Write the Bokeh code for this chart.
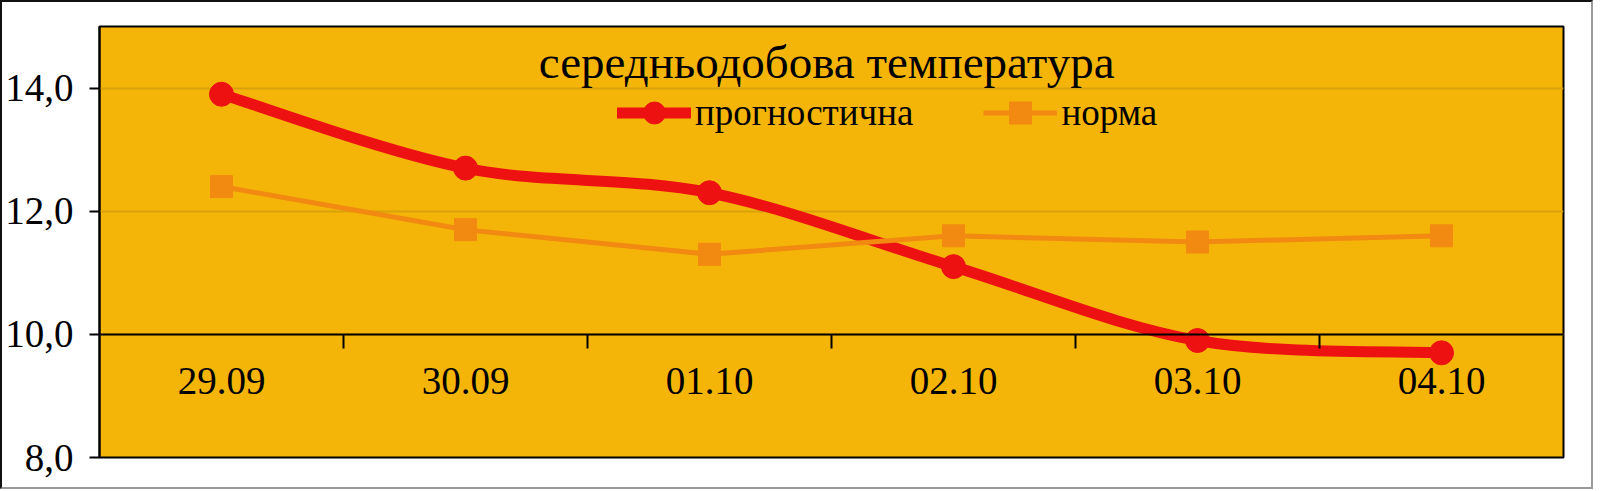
from bokeh.plotting import figure
from bokeh.models import (Range1d, LinearAxis, FixedTicker, Label, Legend,
                          LegendItem, ColumnDataSource)
from bokeh.embed import file_html
from bokeh.resources import INLINE

# ---- data ----
categories = ["29.09", "30.09", "01.10", "02.10", "03.10", "04.10"]
forecast = [13.9, 12.7, 12.3, 11.1, 9.9, 9.7]
normal = [12.4, 11.7, 11.3, 11.6, 11.5, 11.6]
y_ticks = [8, 10, 12, 14]
y_tick_labels = ["8,0", "10,0", "12,0", "14,0"]
title_text = "середньодобова температура"
series_names = ["прогностична", "норма"]

# ---- styles ----
BG = "#F5B508"
RED = "#EE1111"
ORANGE = "#F28A12"
GRID = "#D9A20A"
FONT = "Liberation Serif"

n = len(categories)
xs = [i + 0.5 for i in range(n)]

# smooth (Catmull-Rom style Bezier, like a spreadsheet "smoothed line")
pts = list(zip(xs, forecast))
seg = dict(x0=[], y0=[], x1=[], y1=[], cx0=[], cy0=[], cx1=[], cy1=[])
for i in range(n - 1):
    p0 = pts[max(i - 1, 0)]
    p1 = pts[i]
    p2 = pts[i + 1]
    p3 = pts[min(i + 2, n - 1)]
    seg["x0"].append(p1[0]); seg["y0"].append(p1[1])
    seg["x1"].append(p2[0]); seg["y1"].append(p2[1])
    seg["cx0"].append(p1[0] + (p2[0] - p0[0]) / 6)
    seg["cy0"].append(p1[1] + (p2[1] - p0[1]) / 6)
    seg["cx1"].append(p2[0] - (p3[0] - p1[0]) / 6)
    seg["cy1"].append(p2[1] - (p3[1] - p1[1]) / 6)

p = figure(frame_width=1464, frame_height=431,
           x_range=Range1d(0, n), y_range=Range1d(8, 15),
           output_backend="svg", toolbar_location=None,
           x_axis_location=None, y_axis_location="left",
           min_border_left=96, min_border_top=24,
           min_border_right=28, min_border_bottom=30,
           background_fill_color=BG, border_fill_color="white",
           outline_line_color="black", outline_line_width=2)
p.styles = {"border-top": "2px solid #111", "border-left": "2px solid #111",
            "border-right": "2px solid #999", "border-bottom": "2px solid #999"}

# y axis
ya = p.yaxis[0]
ya.ticker = FixedTicker(ticks=y_ticks)
ya.major_label_overrides = dict(zip(y_ticks, y_tick_labels))
ya.major_tick_out = 10
ya.major_tick_in = 0
ya.minor_tick_out = 0
ya.minor_tick_in = 0
ya.major_tick_line_width = 2
ya.axis_line_width = 2
ya.major_label_standoff = 16
ya.major_label_text_font = FONT
ya.major_label_text_font_size = "39px"
ya.major_label_text_color = "black"

p.xgrid.visible = False
p.ygrid.ticker = FixedTicker(ticks=y_ticks)
p.ygrid.grid_line_color = GRID
p.ygrid.grid_line_width = 2

# x axis crossing at 10: boundary ticks + centred labels
ax_ticks = LinearAxis(fixed_location=10,
                      ticker=FixedTicker(ticks=list(range(1, n))),
                      major_label_text_color=None,
                      major_tick_in=0, major_tick_out=14,
                      minor_tick_in=0, minor_tick_out=0,
                      major_tick_line_width=2, axis_line_width=2,
                      axis_line_color="black", major_tick_line_color="black")
ax_labels = LinearAxis(fixed_location=10,
                       ticker=FixedTicker(ticks=xs),
                       major_label_overrides={x: c for x, c in zip(xs, categories)},
                       major_tick_line_color=None, axis_line_color=None,
                       minor_tick_line_color=None,
                       major_tick_in=0, major_tick_out=0,
                       minor_tick_in=0, minor_tick_out=0,
                       major_label_standoff=34,
                       major_label_text_font=FONT,
                       major_label_text_font_size="39px",
                       major_label_text_color="black")
p.add_layout(ax_ticks, "below")
p.add_layout(ax_labels, "below")

# series
bez = p.bezier(source=ColumnDataSource(seg), x0="x0", y0="y0", x1="x1", y1="y1",
               cx0="cx0", cy0="cy0", cx1="cx1", cy1="cy1",
               line_color=RED, line_width=11, line_cap="round")
red_pts = p.scatter(xs, forecast, marker="circle", size=24,
                    fill_color=RED, line_color=RED)
org_line = p.line(xs, normal, line_color=ORANGE, line_width=5)
org_pts = p.scatter(xs, normal, marker="square", size=22,
                    fill_color=ORANGE, line_color=ORANGE)

# title inside the plot
p.add_layout(Label(x=2.98, y=14.43, text=title_text, text_align="center",
                   text_baseline="middle", text_font=FONT,
                   text_font_size="47px", text_color="black"))

legend = Legend(items=[LegendItem(label=series_names[0], renderers=[bez, red_pts]),
                       LegendItem(label=series_names[1], renderers=[org_line, org_pts])],
                orientation="horizontal", location=(518, 317),
                background_fill_alpha=0, border_line_color=None,
                padding=0, margin=0, spacing=70,
                glyph_width=74, glyph_height=55, label_height=30,
                label_standoff=4, label_text_font=FONT,
                label_text_font_size="37px", label_text_color="black")
p.add_layout(legend)

open("out.html", "w").write(file_html(p, INLINE))
